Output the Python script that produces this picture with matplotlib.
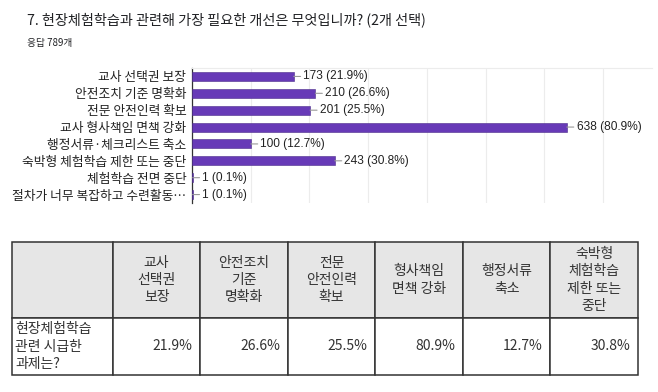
import matplotlib.pyplot as plt

plt.rcParams['font.family'] = ['Noto Sans CJK KR', 'DejaVu Sans']

# dati del grafico a barre
options = ['교사 선택권 보장', '안전조치 기준 명확화', '전문 안전인력 확보', '교사 형사책임 면책 강화',
           '행정서류·체크리스트 축소', '숙박형 체험학습 제한 또는 중단', '체험학습 전면 중단',
           '절차가 너무 복잡하고 수련활동…']
counts = [173, 210, 201, 638, 100, 243, 1, 1]
pcts = ['21.9%', '26.6%', '25.5%', '80.9%', '12.7%', '30.8%', '0.1%', '0.1%']

# dati della tabella
col_labels = ['교사\n선택권\n보장', '안전조치\n기준\n명확화', '전문\n안전인력\n확보', '형사책임\n면책 강화',
              '행정서류\n축소', '숙박형\n체험학습\n제한 또는\n중단']
row_label = '현장체험학습\n관련 시급한\n과제는?'
row_values = ['21.9%', '26.6%', '25.5%', '80.9%', '12.7%', '30.8%']

W, H = 658, 392
fig = plt.figure(figsize=(W / 100, H / 100), dpi=100)

def box(l, t, r, b):
    return [l / W, 1 - b / H, (r - l) / W, (b - t) / H]

fig.text(27 / W, 1 - 20 / H, '7. 현장체험학습과 관련해 가장 필요한 개선은 무엇입니까? (2개 선택)',
         fontsize=10.2, color='#202124', va='center', ha='left')
fig.text(27 / W, 1 - 43 / H, '응답 789개', fontsize=7, color='#202124', va='center', ha='left')

ax = fig.add_axes(box(192, 68, 652, 203))
y = range(len(options))
ax.barh(y, counts, height=0.54, color='#673ab7', edgecolor='#4a2a8a', linewidth=0.4, zorder=3)
ax.set_ylim(len(options) - 0.5, -0.5)
ax.set_xlim(0, 783)
ax.set_xticks(range(0, 800, 100))
ax.xaxis.grid(True, color='#ececec', linewidth=0.8, zorder=0)
ax.tick_params(axis='x', length=0, labelbottom=False)
ax.tick_params(axis='y', length=0, pad=4)
ax.set_yticks(list(y))
ax.set_yticklabels(options, fontsize=9.2, color='#222222')
for s in ['right', 'bottom']:
    ax.spines[s].set_visible(False)
ax.spines['top'].set_color('#ececec')
ax.spines['left'].set_color('#333333')
ax.spines['left'].set_linewidth(0.9)

for i, (c, p) in enumerate(zip(counts, pcts)):
    ax.annotate(f'{c} ({p})', xy=(c, i), xytext=(7, 0), textcoords='offset points',
                va='center', ha='left', fontsize=8.6, color='#222222',
                family=['Liberation Sans', 'Noto Sans CJK KR'],
                arrowprops=dict(arrowstyle='-', color='#999999', lw=0.8, shrinkA=0, shrinkB=0))

# tabella
tax = fig.add_axes(box(12, 242, 638, 375))
tax.axis('off')
cells = [[''] + col_labels, [row_label] + row_values]
tbl = tax.table(cellText=cells, bbox=[0, 0, 1, 1],
                colWidths=[101] + [87.7] * len(col_labels))
tbl.auto_set_font_size(False)
for (r, c), cell in tbl.get_celld().items():
    cell.set_edgecolor('#333333')
    cell.set_linewidth(1.1)
    txt = cell.get_text()
    txt.set_fontsize(10)
    txt.set_color('#333333')
    txt.set_linespacing(1.3)
    if r == 0:
        cell.set_height(76)
        cell.set_facecolor('#e6e6e6')
        txt.set_ha('center')
        txt.set_multialignment('center')
    else:
        cell.set_height(57)
        cell.set_facecolor('white')
        if c == 0:
            txt.set_ha('left')
            txt.set_multialignment('left')
            cell.PAD = 0.03
        else:
            txt.set_ha('right')
            cell.PAD = 0.09

fig.savefig('out.png', dpi=100)
